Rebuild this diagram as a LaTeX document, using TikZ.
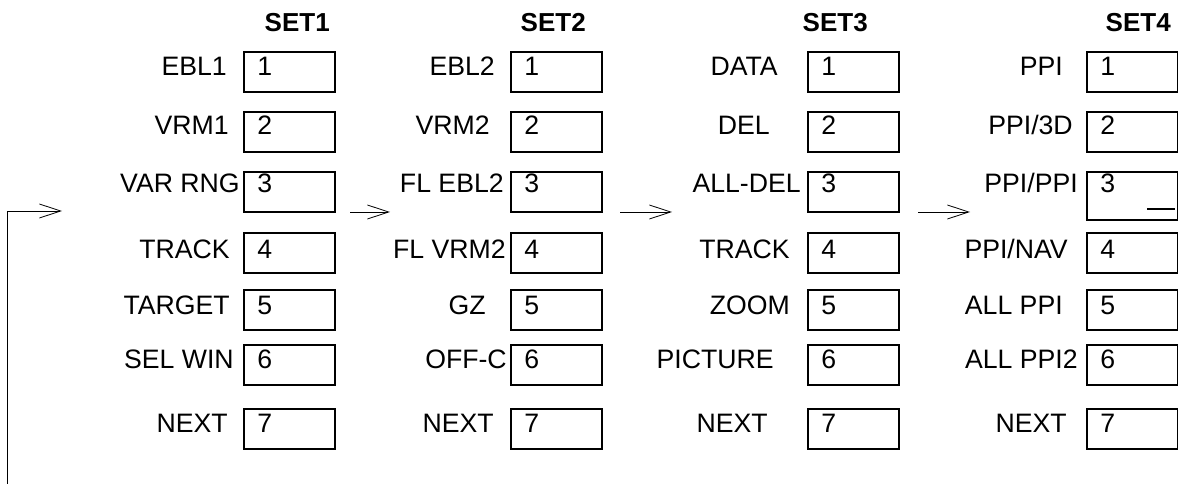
\documentclass[tikz,border=0pt]{standalone}
\usepackage{fontspec}
\setmainfont{Liberation Sans}
\usetikzlibrary{arrows.meta}
\begin{document}
\begin{tikzpicture}[x=0.75pt,y=-0.75pt,
  box/.style={draw, line width=0.9pt, anchor=north west, minimum width=68.25pt, minimum height=30pt, inner sep=0pt, outer sep=0pt},
  lbl/.style={anchor=base east, inner sep=0pt, font=\fontsize{20}{23}\selectfont},
  num/.style={anchor=base west, inner sep=0pt, font=\fontsize{20}{23}\selectfont},
  hdr/.style={anchor=base east, inner sep=0pt, font=\fontsize{19.5}{23}\selectfont\bfseries},
  arr/.style={-{Straight Barb[length=16pt,width=10.5pt]}, line width=0.6pt}]
\useasboundingbox (0,0) rectangle (1178,484);
% headers
\node[hdr] (h1) at (330,32) {SET1};
\node[hdr] (h2) at (586,32) {SET2};
\node[hdr] (h3) at (868,32) {SET3};
\node[hdr] (h4) at (1171,32) {SET4};
% boxes and numbers
\foreach \s/\bx in {1/244,2/511,3/808,4/1087}{
  \foreach \r/\top/\base in {1/52/76,2/112/135,3/172/193,4/233/259,5/290/315,6/345/369,7/409/433}{
    \ifnum\s\r=43
      \node[box, minimum height=36pt] (b\s-\r) at (\bx,\top) {};
    \else
      \node[box] (b\s-\r) at (\bx,\top) {};
    \fi
    \node[num] (n\s-\r) at (\bx+13,\base) {\r};
  }
}
\draw[line width=0.8pt] (1147,209) -- (1175,209);
% SET1 labels
\node[lbl] (l1-1) at (227,76) {EBL1};
\node[lbl] (l1-2) at (229,135) {VRM1};
\node[lbl] (l1-3) at (240,193) {VAR RNG};
\node[lbl] (l1-4) at (230,259) {TRACK};
\node[lbl] (l1-5) at (230,315) {TARGET};
\node[lbl] (l1-6) at (234,369) {SEL WIN};
\node[lbl] (l1-7) at (228,433) {NEXT};
% SET2 labels
\node[lbl] (l2-1) at (495,76) {EBL2};
\node[lbl] (l2-2) at (490,135) {VRM2};
\node[lbl] (l2-3) at (504,193) {FL EBL2};
\node[lbl] (l2-4) at (506,259) {FL VRM2};
\node[lbl] (l2-5) at (486,315) {GZ};
\node[lbl] (l2-6) at (507,369) {OFF-C};
\node[lbl] (l2-7) at (494,433) {NEXT};
% SET3 labels
\node[lbl] (l3-1) at (778,76) {DATA};
\node[lbl] (l3-2) at (770,135) {DEL};
\node[lbl] (l3-3) at (801,193) {ALL-DEL};
\node[lbl] (l3-4) at (790,259) {TRACK};
\node[lbl] (l3-5) at (790,315) {ZOOM};
\node[lbl] (l3-6) at (774,369) {PICTURE};
\node[lbl] (l3-7) at (768,433) {NEXT};
% SET4 labels
\node[lbl] (l4-1) at (1063,76) {PPI};
\node[lbl] (l4-2) at (1073,135) {PPI/3D};
\node[lbl] (l4-3) at (1078,193) {PPI/PPI};
\node[lbl] (l4-4) at (1068,259) {PPI/NAV};
\node[lbl] (l4-5) at (1063,315) {ALL PPI};
\node[lbl] (l4-6) at (1078,369) {ALL PPI2};
\node[lbl] (l4-7) at (1067,433) {NEXT};
% arrows
\coordinate (fb0) at (7,484);
\coordinate (fb1) at (7,211);
\coordinate (fb2) at (62,211);
\draw[arr] (fb0) -- (fb1) -- (fb2);
\coordinate (a1s) at (350,212); \coordinate (a1e) at (390,212);
\coordinate (a2s) at (620,212); \coordinate (a2e) at (672,212);
\coordinate (a3s) at (918,212); \coordinate (a3e) at (970,212);
\draw[arr] (a1s) -- (a1e);
\draw[arr] (a2s) -- (a2e);
\draw[arr] (a3s) -- (a3e);
\end{tikzpicture}
\end{document}
